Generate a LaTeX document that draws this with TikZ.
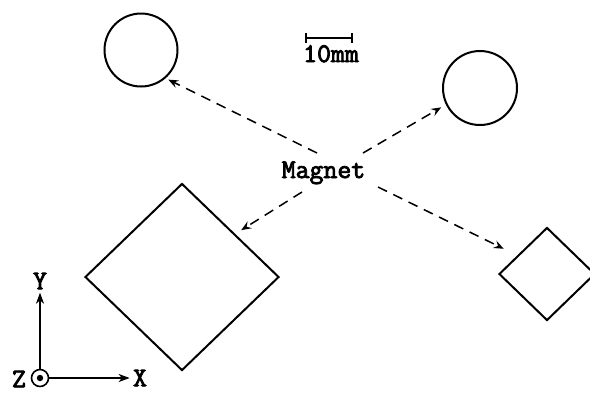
\documentclass[tikz,border=0pt]{standalone}
\usepackage{fontspec}
\newfontfamily\typefont[FakeBold=3]{Latin Modern Mono}
\usepackage{tikz}
\usetikzlibrary{arrows.meta,positioning,shapes.geometric,calc}

\begin{document}
\begin{tikzpicture}[
  x=0.5pt, y=-0.5pt,
  font=\typefont\fontsize{13.5}{15}\selectfont,
  magnet/.style={draw, line width=1pt, circle, minimum size=36.5pt, inner sep=0pt},
  plate/.style={draw, line width=1pt, diamond, inner sep=0pt},
  arr/.style={-{Stealth[length=5pt, width=4pt, inset=1.8pt]}, line width=0.75pt, dash pattern=on 5pt off 3.5pt},
  axis/.style={-{Stealth[length=5.5pt, width=4pt, inset=1.6pt]}, line width=0.8pt},
  lbl/.style={inner sep=1.5pt}
]
\useasboundingbox (0,0) rectangle (590,393);

% magnets and plates
\node[magnet] (c1) at (141,50) {};
\node[magnet, minimum size=37pt] (c2) at (480,88) {};
\node[plate, minimum width=97pt, minimum height=93.5pt] (d1) at (182,277) {};
\node[plate, minimum width=48pt, minimum height=46.5pt] (d2) at (547,274) {};

% label and leaders
\node[lbl, anchor=base] (mag) at (323.5,178) {Magnet};
\coordinate (mNW) at (317,153);
\coordinate (mNE) at (363,153);
\coordinate (mSW) at (302,192);
\coordinate (mSE) at (378,187);
\draw[arr, shorten >=1.5pt] (mNW) -- (c1.-49);
\draw[arr, shorten >=2.7pt] (mNE) -- (c2.206);
\draw[arr, shorten >=3.5pt] (mSW) -- (d1.39);
\draw[arr, shorten >=7.5pt] (mSE) -- (d2.148);

% scale bar
\coordinate (sb1) at (305,38);
\coordinate (sb2) at (353,38);
\draw[{Bar[width=5pt]}-{Bar[width=5pt]}, line width=0.8pt] (sb1) -- (sb2);
\node[lbl, anchor=base] (sbl) at (331,62) {10mm};

% axes
\node[draw, circle, line width=0.8pt, minimum size=8.5pt, inner sep=0pt] (o) at (40,378) {};
\fill (o.center) circle[radius=1.6pt];
\node[lbl] (ly) at (40,281) {Y};
\node[lbl] (lx) at (140,378) {X};
\node[lbl] (lz) at (19,379) {Z};
\draw[axis] (o) -- (ly);
\draw[axis] (o) -- (lx);
\end{tikzpicture}
\end{document}
